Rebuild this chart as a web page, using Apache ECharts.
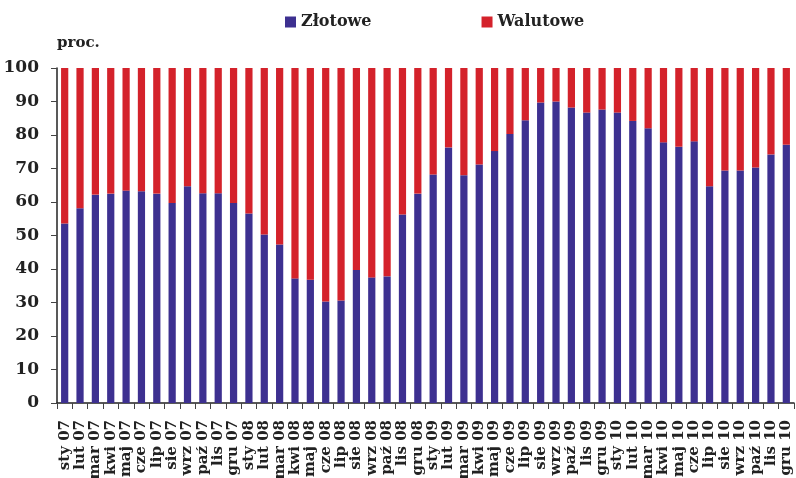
<!DOCTYPE html>
<html>
<head>
<meta charset="utf-8">
<script src="https://cdn.jsdelivr.net/npm/echarts@6/dist/echarts.min.js"></script>
<style>
  html, body { margin: 0; padding: 0; background: #fff; }
  #chart { width: 796px; height: 478px; }
</style>
</head>
<body>
<div id="chart"></div>
<script>
var months = ['sty 07', 'lut 07', 'mar 07', 'kwi 07', 'maj 07', 'cze 07', 'lip 07', 'sie 07', 'wrz 07', 'paź 07', 'lis 07', 'gru 07',
  'sty 08', 'lut 08', 'mar 08', 'kwi 08', 'maj 08', 'cze 08', 'lip 08', 'sie 08', 'wrz 08', 'paź 08', 'lis 08', 'gru 08',
  'sty 09', 'lut 09', 'mar 09', 'kwi 09', 'maj 09', 'cze 09', 'lip 09', 'sie 09', 'wrz 09', 'paź 09', 'lis 09', 'gru 09',
  'sty 10', 'lut 10', 'mar 10', 'kwi 10', 'maj 10', 'cze 10', 'lip 10', 'sie 10', 'wrz 10', 'paź 10', 'lis 10', 'gru 10']

// udział kredytów złotowych (proc.)
var zlotowe = [53.6, 58.1, 62.2, 62.5, 63.4, 63.2, 62.5, 59.7, 64.7, 62.6, 62.6, 59.7,
  56.6, 50.3, 47.3, 37.2, 36.8, 30.3, 30.6, 39.7, 37.5, 37.8, 56.3, 62.5,
  68.2, 76.3, 68.0, 71.2, 75.2, 80.3, 84.4, 89.7, 90.0, 88.2, 86.7, 87.6,
  86.7, 84.2, 82.0, 77.8, 76.5, 78.1, 64.7, 69.4, 69.4, 70.3, 74.2, 77.1]

// udział kredytów walutowych (proc.)
var walutowe = [46.4, 41.9, 37.8, 37.5, 36.6, 36.8, 37.5, 40.3, 35.3, 37.4, 37.4, 40.3,
  43.4, 49.7, 52.7, 62.8, 63.2, 69.7, 69.4, 60.3, 62.5, 62.2, 43.7, 37.5,
  31.8, 23.7, 32.0, 28.8, 24.8, 19.7, 15.6, 10.3, 10.0, 11.8, 13.3, 12.4,
  13.3, 15.8, 18.0, 22.2, 23.5, 21.9, 35.3, 30.6, 30.6, 29.7, 25.8, 22.9]

var yTicks = [0, 10, 20, 30, 40, 50, 60, 70, 80, 90, 100]

var font = "'DejaVu Serif', serif"
var chart = echarts.init(document.getElementById('chart'))

var option = {
  animation: false,
  legend: {
    data: ['Złotowe', 'Walutowe'],
    top: 9,
    left: 280,
    itemWidth: 11,
    itemHeight: 11,
    itemGap: 110,
    icon: 'rect',
    textStyle: {
      color: '#222',
      fontSize: 16,
      fontWeight: 'bold',
      fontFamily: font,
    },
  },
  title: {
    text: 'proc.',
    left: 52,
    top: 31,
    textStyle: {
      color: '#222',
      fontSize: 15,
      fontWeight: 'bold',
      fontFamily: font,
    },
  },
  grid: {
    left: 57,
    right: 2,
    top: 68,
    bottom: 75,
    containLabel: false,
    outerBoundsMode: 'none',
  },
  xAxis: {
    type: 'category',
    data: months,
    axisLine: { lineStyle: { color: '#222', width: 1.5 } },
    axisTick: { show: true, length: 6, interval: 0, lineStyle: { color: '#444' } },
    axisLabel: {
      interval: 0,
      rotate: 90,
      margin: 17,
      color: '#222',
      fontSize: 15,
      fontWeight: 'bold',
      fontFamily: font,
    },
  },
  yAxis: {
    type: 'value',
    min: yTicks[0],
    max: yTicks[yTicks.length - 1],
    interval: 10,
    splitLine: { show: false },
    axisLine: { show: true, lineStyle: { color: '#222', width: 1.5 } },
    axisTick: { show: true, length: 6, lineStyle: { color: '#444' } },
    axisLabel: {
      margin: 18,
      color: '#222',
      fontSize: 17,
      fontWeight: 'bold',
      fontFamily: font,
    },
  },
  series: [
    {
      name: 'Złotowe',
      type: 'bar',
      stack: 'all',
      data: zlotowe,
      barWidth: '47%',
      color: '#3d3090',
    },
    {
      name: 'Walutowe',
      type: 'bar',
      stack: 'all',
      data: walutowe,
      barWidth: '47%',
      color: '#d4222b',
    },
  ],
}

chart.setOption(option)
</script>
</body>
</html>
